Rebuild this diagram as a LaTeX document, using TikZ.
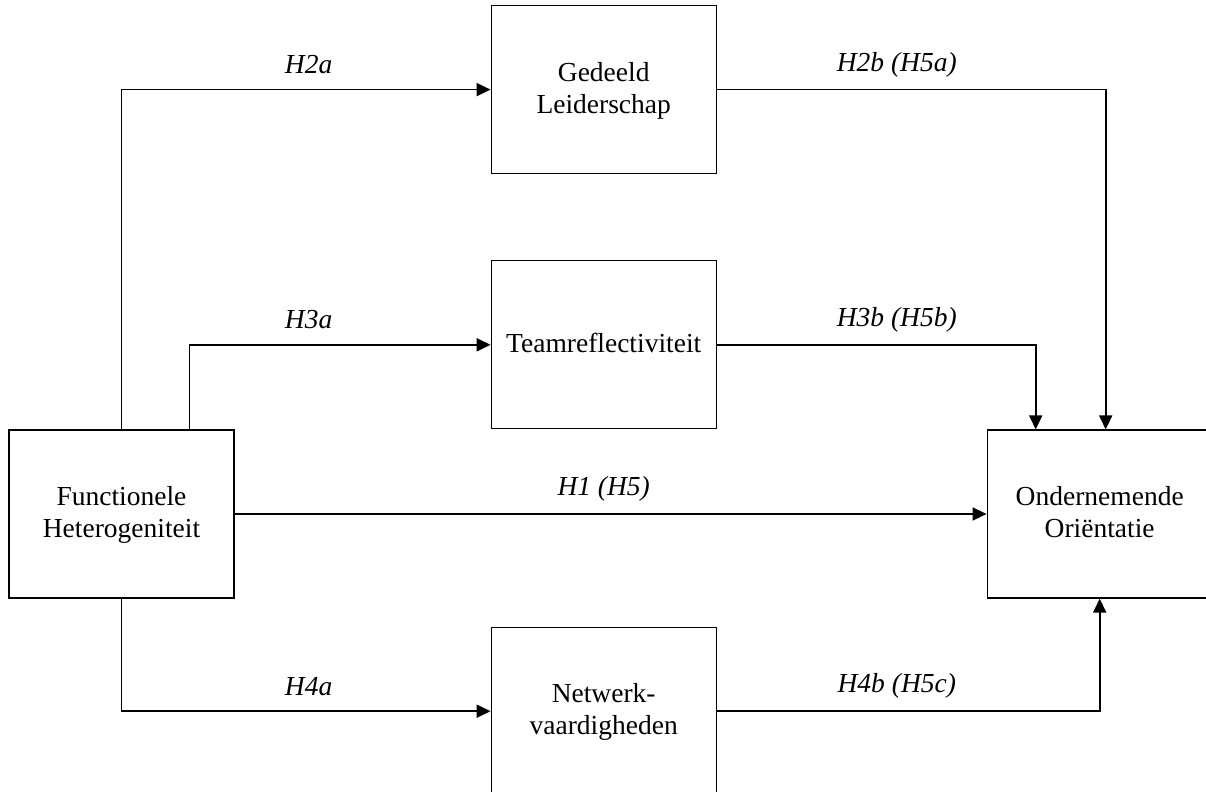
\documentclass[tikz,border=0pt]{standalone}
\usepackage{fontspec}
\setmainfont{Liberation Serif}
\usetikzlibrary{positioning}
\usetikzlibrary{calc}
\usetikzlibrary{arrows.meta}
\tikzstyle{box}=[rectangle,draw,line width=0.6pt,minimum width=112.5pt,minimum height=84pt,align=center,inner sep=2pt,text depth=2pt,font=\fontsize{13.75}{16}\selectfont]
\tikzstyle{hyp}=[inner sep=0pt,font=\fontsize{13.75}{16}\selectfont\itshape]
\tikzstyle{link}=[line width=0.9pt,-{Triangle[length=7pt,width=6.5pt]}]

\begin{document}
\begin{tikzpicture}
\useasboundingbox (0,0) rectangle (603pt,-396pt);
\node (fh) [box] at (60.75pt,-257pt) {Functionele\\Heterogeniteit};
\node (tr) [box, above right=0pt and 128pt of fh] {Teamreflectiviteit};
\node (gl) [box, above=43pt of tr] {Gedeeld\\Leiderschap};
\node (nv) [box, below right=14pt and 128pt of fh] {Netwerk-\\vaardigheden};
\node (oo) [box, right=376pt of fh] {Ondernemende\\Oriëntatie};

\draw[link] (fh.north) |- (gl.west);
\draw[link] ([xshift=34pt]fh.north) |- (tr.west);
\draw[link] (fh.east) -- (oo.west);
\draw[link] (fh.south) |- (nv.west);
\draw[link] (gl.east) -| ([xshift=3pt]oo.north);
\draw[link] (tr.east) -| ([xshift=-32pt]oo.north);
\draw[link] (nv.east) -| (oo.south);

\node (h2a) [hyp] at ($(gl.west)+(-91pt,12.5pt)$) {H2a};
\node (h3a) [hyp] at ($(tr.west)+(-91pt,12.5pt)$) {H3a};
\node (h1) [hyp] at ($(tr.center |- fh.east)+(0,12.5pt)$) {H1 (H5)};
\node (h4a) [hyp] at ($(nv.west)+(-91pt,12.5pt)$) {H4a};
\node (h2b) [hyp] at ($(gl.east)+(90pt,12.5pt)$) {H2b (H5a)};
\node (h3b) [hyp] at ($(tr.east)+(90pt,12.5pt)$) {H3b (H5b)};
\node (h4b) [hyp] at ($(nv.east)+(90pt,12.5pt)$) {H4b (H5c)};
\end{tikzpicture}
\end{document}
